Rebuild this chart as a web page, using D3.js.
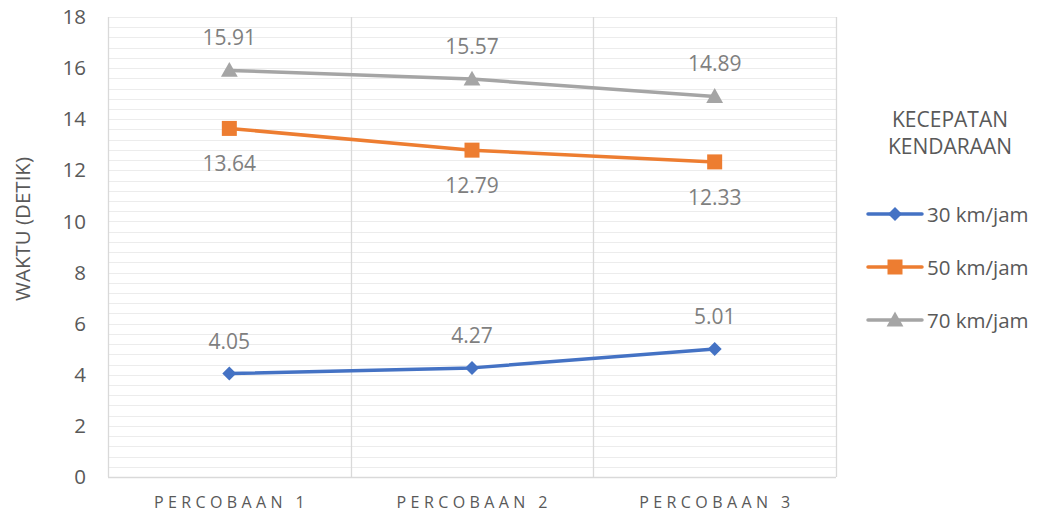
<!DOCTYPE html>
<html>
<head>
<meta charset="utf-8">
<script src="https://cdn.jsdelivr.net/npm/d3@7"></script>
<style>
  html, body { margin: 0; padding: 0; background: #fff; }
  svg { display: block; font-family: "Open Sans", "Liberation Sans", sans-serif; }
</style>
</head>
<body>
<svg id="chart" width="1043" height="517"></svg>
<script>
// Chart data
const categories = ["PERCOBAAN 1", "PERCOBAAN 2", "PERCOBAAN 3"];
const seriesNames = ["30 km/jam", "50 km/jam", "70 km/jam"];
const values30 = [4.05, 4.27, 5.01];
const values50 = [13.64, 12.79, 12.33];
const values70 = [15.91, 15.57, 14.89];
const yTicks = [0, 2, 4, 6, 8, 10, 12, 14, 16, 18];
const legendTitle = ["KECEPATAN", "KENDARAAN"];
const yTitle = "WAKTU (DETIK)";

const series = [
  { name: seriesNames[0], values: values30, color: "#4472c4", marker: "diamond", labelPos: "above" },
  { name: seriesNames[1], values: values50, color: "#ed7d31", marker: "square", labelPos: "below" },
  { name: seriesNames[2], values: values70, color: "#a5a5a5", marker: "triangle", labelPos: "above" }
];

const svg = d3.select("#chart");
const plot = { left: 108, right: 836, top: 17, bottom: 477 };

const x = d3.scaleBand().domain(categories).range([plot.left, plot.right]);
const y = d3.scaleLinear().domain([0, 18]).range([plot.bottom, plot.top]);

// Minor horizontal gridlines every 0.4
const minor = d3.range(0, 18.0001, 0.4);
svg.append("g").selectAll("line").data(minor).join("line")
  .attr("x1", plot.left).attr("x2", plot.right)
  .attr("y1", d => Math.round(y(d)) + 0.5).attr("y2", d => Math.round(y(d)) + 0.5)
  .attr("stroke", "#ececec").attr("stroke-width", 1.2);

// Vertical category separators
const seps = categories.map(c => x(c)).concat([plot.right]);
svg.append("g").selectAll("line").data(seps).join("line")
  .attr("x1", d => Math.round(d) + 0.5).attr("x2", d => Math.round(d) + 0.5)
  .attr("y1", plot.top).attr("y2", plot.bottom)
  .attr("stroke", "#d9d9d9").attr("stroke-width", 1.3);

// Bottom axis line
svg.append("line")
  .attr("x1", plot.left).attr("x2", plot.right)
  .attr("y1", plot.bottom + 0.5).attr("y2", plot.bottom + 0.5)
  .attr("stroke", "#d9d9d9").attr("stroke-width", 1.5);

// Y axis labels
const yAxis = d3.axisLeft(y).tickValues(yTicks).tickSize(0).tickPadding(0);
const yg = svg.append("g").attr("transform", `translate(86,0)`).call(yAxis);
yg.select(".domain").remove();
yg.selectAll("text").attr("font-size", 20.5).attr("fill", "#595959")
  .attr("font-family", "'Open Sans', sans-serif");

// X axis labels (letter spacing leaves a trailing gap, so shift by half of it)
const xAxis = d3.axisBottom(x).tickSize(0).tickPadding(0);
const xg = svg.append("g").attr("transform", `translate(0,${plot.bottom})`).call(xAxis);
xg.select(".domain").remove();
xg.selectAll("text").attr("font-size", 16).attr("fill", "#595959")
  .attr("letter-spacing", "4.4px").attr("dy", 0).attr("y", 31).attr("x", 2.2)
  .attr("font-family", "'Open Sans', sans-serif");

// Y axis title
svg.append("text")
  .attr("transform", `translate(30,229) rotate(-90)`)
  .attr("text-anchor", "middle").attr("font-size", 20.5).attr("fill", "#595959")
  .text(yTitle);

// Marker shapes
function markerPath(type, size) {
  const s = size;
  if (type === "diamond") return `M0,${-s}L${s},0L0,${s}L${-s},0Z`;
  if (type === "square") return `M${-s},${-s}H${s}V${s}H${-s}Z`;
  return `M0,${-s * 1.05}L${s * 1.05},${s * 0.8}L${-s * 1.05},${s * 0.8}Z`;
}
const markerSize = { diamond: 7, square: 7.5, triangle: 8 };

const cx = c => x(c) + x.bandwidth() / 2;
const line = d3.line().x((d, i) => cx(categories[i])).y(d => y(d));

series.forEach(s => {
  const g = svg.append("g");
  g.append("path").datum(s.values)
    .attr("d", line).attr("fill", "none")
    .attr("stroke", s.color).attr("stroke-width", 3.5).attr("stroke-linejoin", "round");
  g.selectAll("path.m").data(s.values).join("path").attr("class", "m")
    .attr("transform", (d, i) => `translate(${cx(categories[i])},${y(d)})`)
    .attr("d", markerPath(s.marker, markerSize[s.marker]))
    .attr("fill", s.color);
  g.selectAll("text").data(s.values).join("text")
    .attr("x", (d, i) => cx(categories[i]))
    .attr("y", d => y(d) + (s.labelPos === "above" ? -25 : 43))
    .attr("text-anchor", "middle").attr("font-size", 21).attr("fill", "#7f7f7f")
    .text(d => d.toFixed(2));
});

// Legend
const lg = svg.append("g");
lg.selectAll("text.title").data(legendTitle).join("text").attr("class", "title")
  .attr("x", 950).attr("y", (d, i) => 127 + i * 26.5)
  .attr("text-anchor", "middle").attr("font-size", 21).attr("fill", "#595959")
  .text(d => d);

series.forEach((s, i) => {
  const ly = 214 + i * 53;
  lg.append("line").attr("x1", 868).attr("x2", 922).attr("y1", ly).attr("y2", ly)
    .attr("stroke", s.color).attr("stroke-width", 3.5).attr("stroke-linecap", "round");
  lg.append("path").attr("transform", `translate(895,${ly})`)
    .attr("d", markerPath(s.marker, markerSize[s.marker])).attr("fill", s.color);
  lg.append("text").attr("x", 927).attr("y", ly + 8)
    .attr("font-size", 20.5).attr("fill", "#595959").text(s.name);
});
</script>
</body>
</html>
